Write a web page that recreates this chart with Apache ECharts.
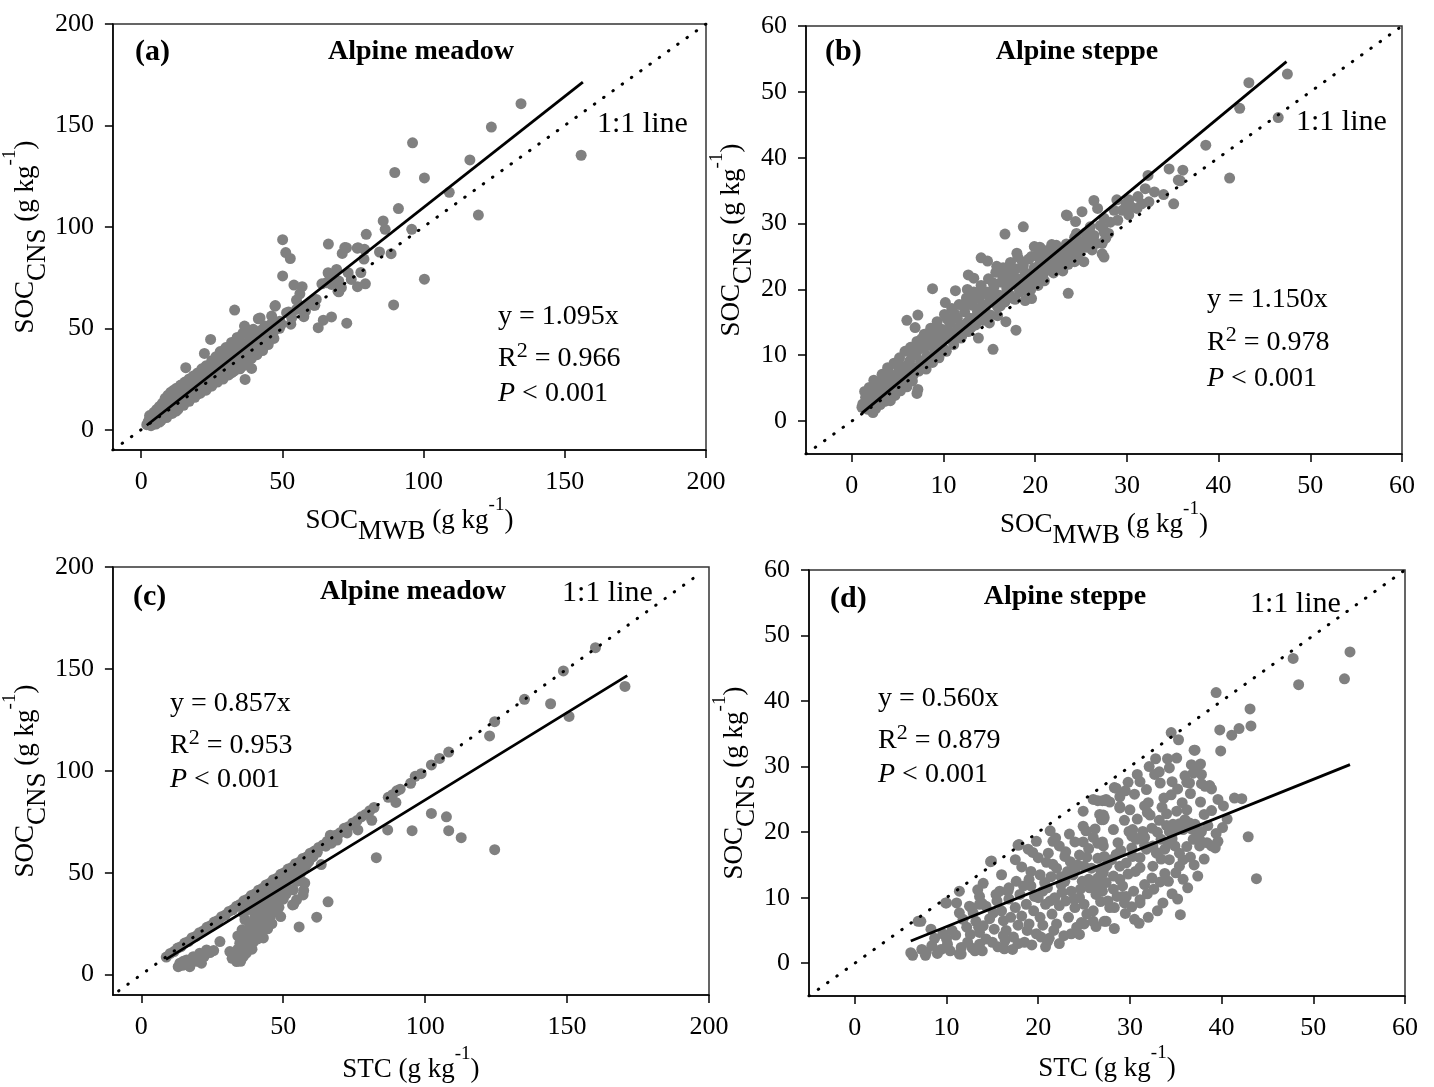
<!DOCTYPE html>
<html>
<head>
<meta charset="utf-8">
<script src="https://cdn.jsdelivr.net/npm/echarts@6/dist/echarts.min.js"></script>
<style>
html, body { margin: 0; padding: 0; background: #fff; }
#mainChart { width: 1434px; height: 1087px; }
</style>
</head>
<body>
<div id="mainChart"></div>
<script>
// SOC comparison, four panels

var serif = '"Liberation Serif", "Times New Roman", serif';
var dotGray = '#808080';

// tick labels
var ticksMeadow = [0, 50, 100, 150, 200];
var ticksSteppe = [0, 10, 20, 30, 40, 50, 60];

// (a) alpine meadow, SOC_MWB vs SOC_CNS
var meadowMwb = [
  [134.5,160.7],[124,149.2],[155.8,135.3],[96.1,141.4],[116.4,133],[89.8,126.8],[100.3,124.1],[109.1,117],[119.4,105.8],
  [91.1,109],[85.7,102.9],[86.4,98.8],[95.8,98.8],[79.7,96.3],[50.1,93.7],[66.3,91.5],[51.2,87.3],[52.8,84.4],
  [72.1,89.8],[76.5,89.5],[71.2,86.9],[84.4,87.6],[88.5,86.8],[78.9,84.1],[77.8,77.5],[79.4,71.9],[100.3,74.2],
  [50.1,75.8],[89.4,61.5],[72.8,52.5],[62.7,50.3],[67.4,55.6],[64.5,54],[57.6,55.7],[61.5,61.3],[33.1,59],
  [47.4,60.9],[42.1,55.1],[36.6,51.1],[24.6,44.5],[22.4,37.6],[15.8,30.6],[36.8,24.8],[24.4,21.5],[12.4,9.2],
  [72.7,89.7],[76.8,89.7],[79.1,88.9],[74.4,74.1],[76.6,70.5],[69.2,79],[66.4,77],[68.3,74.9],[70,73.3],[67.4,71.6],
  [70,68],[70.9,70],[73.3,77.4],[64,71.9],[65.6,72.5],[66.2,77.4],[69.7,68.3],[54.1,71.3],[57,70.5],[56.2,67],
  [55,63.9],[56.8,60.9],[58.2,58.5],[46.2,56],[49.1,53.5],[41.5,54.7],[39.7,49.5],[43.8,51.1],[46.2,49.5],[39.1,38],
  [39.1,30.2],[51.5,57.7],[53.3,55.2],[49.7,52],[55,59.3],[60,62.5],[62,64.2],[58.5,61],[53,52],[61.1,61.4],[52.2,58],
  [48.9,52.5],[47.5,61.2],[35.6,31.1],[32.1,28.1],[28.6,26.5],
  [2,2.5],[2.5,4],[3,3],[3,5.5],[3.5,2],[3.8,4.5],[4,6.8],[4.3,3.2],[4.8,5.2],[5,7.8],[5.2,2.8],[5.6,4.4],[6,6.2],
  [6,9.5],[6.5,3.8],[6.8,7.5],[7,11],[7.3,5.2],[7.8,8.8],[8,12.5],[8.2,6.3],[8.7,10],[9,14],[9.2,7.5],[9.8,11.5],
  [10,15.5],[10.3,8.5],[10.8,13],[11,17],[11.4,10.2],[11.8,14.5],[12,18],[12.6,12],[13,16],[13.4,19],[13.8,13.2],
  [14.3,17.5],[15,19.5],[15.2,14.8],[16,17.5],[16.4,21],[17,15.6],[17.3,19.5],[18,22.5],[18.4,18],[19,20.5],[19.5,24],
  [20,17.5],[20.4,22],[21,26],[21.5,20],[22,24],[22.5,28],[23,21.5],[23.5,25.5],[24,29],[24.8,23.5],[25.3,27],[26,31],
  [26.4,25],[27,29],[27.5,33],[28,26],[29,31],[29.5,35],[30,28.5],[30.5,33],[31,37],[31.5,30],[32,35],[32.5,39],
  [33,32.5],[33.5,37],[34,41],[34.5,34],[35,39],[35.5,43],[36,36],[36.5,40.5],[37,34],[37.5,42],[38,38],[38.5,45],
  [39,41],[40,43.5],[40.5,47],[41,40],[42,45],[42.5,49],[43,43],[44,47.5],[45,50],[45.5,46],[46,52],[47,48.5],
  [48,53],[49,50],
  [3,7],[4.5,8.5],[5.5,10],[6.5,11.5],[7.5,13],[8.5,15.5],[9.5,17],[10.5,18.5],[11.5,19.5],[12.5,20.5],[14,22],
  [15.5,23.5],[17,25],[18.5,26.5],[20,28],[21.5,30],[23,31.5],[25,34],[26.5,36],[28,38.5],[30,40.5],[32,43],
  [34,45.5],[36,47.5],[38,49],
  [5,3],[7,4.5],[9,6],[11,8],[13,10],[15,12],[17,14],[19,16],[21,18],[23,19.5],[25,21.5],[27,23.5],[29,25],
  [31,27],[33,29],[35,30],[37,32],[39,35],[41,37],[43,39],[45,42],[47,45],
  [4,4],[6,5],[8,7.5],[10,9.5],[12,11.5],[14,14],[16,16],[18,19.5],[20,21],[22,22.5],[24,25.5],[26,27.5],[28,30],
  [30,31],[32,33],[34,36],[36,38.5],[38,40.5],[40,41],[42,43.5],[44,45],[46,47]
];

// (b) alpine steppe, SOC_MWB vs SOC_CNS
var steppeMwb = [
  [47.5,52.7],[43.3,51.4],[42.3,47.5],[46.5,46.1],[38.6,41.9],[41.2,36.9],[35.8,36.5],[34.6,38.3],[36.1,38.1],[35.6,36.6],
  [32.3,37.3],[35.1,33],[34,34.4],[32.4,33.3],[31.2,34.1],[30.2,33.6],[29.9,33],[28.9,33.6],[28.6,32],[30.2,31.3],
  [31.1,32.3],[26.4,33.5],[25.1,31.8],[26.8,32.3],[23.5,31.2],[27.5,30.8],[27.4,29.3],[26.4,28.2],[25.9,27.5],[25.5,28.6],
  [27.3,27],[27.5,24.9],[16.7,28.4],[18.7,29.5],[23.6,23.8],[23.6,19.4],[24.9,27.3],[24.4,26.7],[24.8,25.5],[25.3,24.2],
  [24.3,24.2],[22.3,26.7],[21.1,25.7],[20.6,26.2],[20.6,22],[20.8,23],[14.1,24.8],[14.8,24.3],[8.8,20.1],[11.3,19.8],
  [12.7,22.2],[13.3,21.7],[6,15.3],[7.2,16.1],[6.9,14.2],[13.8,12.6],[15.4,10.9],[17.9,13.8],[16.8,15.1],[15.9,16],
  [15,14.9],[7.2,4.8],[7.1,4.2],[2.3,1.3],[1.1,2.1],[23.4,31.3],[24.4,30.3],[27.1,29.7],[27.5,28.7],[26,28.5],
  [25.6,27.5],[27.3,25.4],[24.9,27],[24.2,27],[24.6,25.4],[25.5,26.4],[26.7,27],
  [22.9,24.4],[22,24.9],[21.3,25.9],[20.5,26.4],[22.7,23.4],[21.6,23.4],[20.9,22.4],[20.5,23.9],[19.6,18.6],[18.9,18.3],
  [17.8,18.5],[19.2,19.6],[20.3,20.6],[18.5,20.2],
  [1.2,2.6],[1.5,3.6],[1.7,1.8],[1.9,5.1],[2.1,2.9],[2.3,4.3],[2.4,6.2],[2.6,1.9],[2.8,3.4],[3,5.6],[3.1,2.5],[3.3,7.1],
  [3.4,4.1],[3.6,3],[3.7,5.9],[3.9,8.1],[4.1,4.8],[4.2,3.1],[4.4,6.6],[4.6,8.8],[4.7,3.9],[4.9,5.6],[5.1,7.4],[5.2,9.6],
  [5.3,4.6],[5.5,6.4],[5.7,8.3],[5.8,10.6],[6,5.2],[6.1,7.1],[6.3,9.1],[6.4,11.2],[6.6,6.1],[6.8,8.1],[7,10],[7.1,12.1],
  [7.3,7.6],[7.5,9.1],[7.7,11.1],[7.9,13.2],[8.1,7.9],[8.2,9.9],[8.4,12],[8.6,14.1],[8.8,8.9],[9,10.9],[9.1,13.1],
  [9.3,15.1],[9.5,9.6],[9.7,11.6],[9.9,13.9],[10.1,16.2],[10.3,10.6],[10.5,12.6],[10.7,14.9],[10.9,17.1],[11.1,11.6],
  [11.3,13.6],[11.5,15.6],[11.7,17.7],[11.9,12.6],[12.1,14.6],[12.3,16.6],[12.5,18.7],[12.7,13.6],[12.9,15.6],[13.1,17.6],
  [13.3,19.6],[13.5,14.6],[13.7,16.6],[13.9,18.6],[14.1,20.6],[14.3,15.3],[14.5,17.6],[14.7,19.6],[14.9,21.6],[15.1,16.1],
  [15.3,18.3],[15.5,20.4],[15.7,22.6],[15.9,17.3],[16.1,19.1],[16.3,21.1],[16.5,23.3],[16.7,18.1],[16.9,20.1],[17.1,22.1],
  [17.3,24.1],[17.5,18.7],[17.7,20.9],[17.9,23.1],[18.1,24.9],[18.3,19.6],[18.5,21.6],[18.7,23.6],[18.9,20.6],[19.1,22.4],
  [19.3,24.6],[19.5,19.9],[19.7,21.9],[19.9,23.3],[20.1,25.1],[20.4,21.6],[20.7,24.1],[21.1,22.9],[21.4,25.1],[21.7,23.6],
  [22.1,26.1],[22.4,24.1],[22.7,25.6],[23.1,24.6],[23.4,26.9],[23.9,25.3],[24.3,27.9],[24.7,26.1],
  [1.4,4.5],[2,3.8],[2.6,5.2],[3.2,4.6],[3.5,6.4],[4,7.5],[4.3,5.5],[4.8,7],[5,8.4],[5.4,7.8],[5.6,5.5],[6.2,8.4],
  [6.5,10.2],[6.7,7],[7.2,10.8],[7.4,8.4],[7.6,12.5],[8,11.3],[8.3,8.8],[8.5,13.3],[8.9,12.3],[9.2,10.2],[9.4,14.2],
  [9.8,12.7],[10,11],[10.4,15.5],[10.6,13.6],[11,12.5],[11.2,16.3],[11.6,14.2],[12,13],[12.3,17.8],[12.6,15],[13,14.2],
  [13.2,18.3],[13.6,15.8],[14,17.2],[14.3,19.5],[14.6,16.5],[15,18.8],[15.4,21],[15.8,19.2],[16.2,17.5],[16.4,22.2],
  [16.8,21.2],[17.2,19.2],[17.5,23],[17.8,21.8],[18.2,20.2],[18.6,24.2],[18.9,22.4],[19.3,21],[19.6,25],[20,22.6],
  [20.5,24.8],[21,21.3],[21.5,24.2],[22,22.5],[22.5,25],[23,26.2],[23.6,25.8],[24,25],[24.5,28.5],[25,26.8],
  [21.8,26.8],[19.9,26.5],[18,25.5],[15.8,23.5],[12.6,20],[10.2,18],[26,29.5],[26.2,26],[28.2,30.2],[28,28.5],
  [29.5,32],[29,30.5],[30.5,32.5],[31.6,33],[32,35.3],[33,34.8],[27.7,27.8],[23,22.8]
];

// (c) alpine meadow, STC vs SOC_CNS
var meadowStc = [
  [8.8,8.6],[10.2,10.4],[11.5,11.3],[12.8,13],[14,13.7],[15.3,15.5],[16.6,16.2],[17.9,18.1],[19.2,18.8],[20.5,20.6],
  [21.8,21.4],[23.1,23.2],[24.4,24],[25.7,25.8],[27,26.6],[28.3,28.4],[29.6,29.2],[30.9,31],[32.2,31.8],[33.5,33.5],
  [34.8,34.4],[36.1,36.2],[37.4,37],[38.7,38.8],[40,39.6],[41.3,41.4],[42.6,42.2],[43.9,44],[45.2,44.8],[46.5,46.6],
  [47.8,47.3],[49.1,49.2],[50.4,50],[51.7,51.8],[53,52.5],[54.3,54.4],[55.6,55.1],[56.9,57],[58.2,57.7],[59.5,59.6],
  [61,60.6],[62.5,62.4],[64,63.6],[65.5,65.4],[67,66.6],[68.5,68.4],[70,69.6],[71.5,71.4],[73,72.6],[74.5,74.4],
  [76,75.6],[77.5,77.4],[79,78.6],[80.5,80.4],[82,82],[87,87],[88.5,88.3],[90,90.2],[91.2,91],[94.9,93.9],
  [96.5,97.3],[98.6,98.6],[102.2,102.9],[105.1,106.1],[108.3,109.2],[124.5,124.1],[135,135.1],[148.7,149],[160,160.4],
  [122.7,117.1],[144.2,132.9],[150.7,126.7],[170.4,141.4],[124.5,61.3],[112.7,67.2],[108.3,70.6],[107.5,77.4],
  [102.2,79.1],[95.4,70.6],[86.8,71],[82.8,57.4],[89.7,84.5],[81.2,75.7],[76.3,71],[65.8,35.7],[61.8,28.2],[55.6,23.4],
  [66.6,68.4],[71.5,71.8],[75.2,73.5],[72.5,69.5],[69,66],[67,64.5],[65,63],[63.4,54],[58.2,54],[62,60],[60.5,58],
  [59,55.5],[57.2,52],[56.9,45.5],[57.2,41.3],[53.7,34.5],[57,39.1],[54.7,36.7],[53.3,34.2],[57.6,44.9],[54.7,45.7],
  [53.5,41.6],[56,49.5],[55,47.5],[54,51],[52.5,48],[51.5,46],[50.5,43.5],[49.5,45],[48.5,41],[49.1,28.5],[45.6,31.1],
  [42,40],[44,41.5],[46,43],[48,44.5],[50,47],[52,49.5],[54,52.5],[56,54],[58,56],[60,57.5],[45,42.5],[47,45],[49,47.5],[51,49],
  [27.7,16.2],[31.2,11.3],[33.6,6.4],[35.9,8.8],[34.7,15.4],[37.1,19.5],[38.2,23.6],[40,28.5],[40.6,31.8],[41.8,35.1],
  [44.1,36.7],[45.3,31.8],[32,8],[33,10],[34,12.5],[35,6.5],[36,13.5],[36.5,17],[37,10.5],[37.5,14],[38,17],[38.5,20.5],
  [39,12.5],[39.5,16],[39.5,25.5],[40,20],[40.5,23],[41,17.5],[41.5,26.5],[42,21],[42.5,29],[43,24],[43,18],[43.5,32],
  [44,27],[44.5,22.5],[45,34],[45.5,28.5],[46,25],[46.5,37],[47,31],[47.5,35],[48,38.5],[48.5,33],[46,40],[44,40.5],
  [42.5,38],[39,35.5],[38,32],[36.5,27],[35.5,22],[34,19],[36,30],[50,37],[51,39.5],[52,42],
  [13.6,5.6],[16,7.2],[18.3,8.8],[20.6,10.5],[23,12.1],[21.2,5.6],[17.1,3.9],[13,3.9],[14.5,4.6],[15.5,5],
  [19.5,6.5],[22.2,9],[24.2,10.8],[25.5,11.8],[14.8,6.5]
];

// (d) alpine steppe, STC vs SOC_CNS
var steppeStc = [
  [54,47.5],[53.4,43.4],[47.8,46.5],[48.4,42.5],[39.4,41.3],[43.1,38.8],[43.2,36.2],[39.8,35.6],[41.1,34.8],[41.9,35.8],
  [39.9,32.4],[37,32.5],[34.5,35.2],[35.3,34.1],[35.1,31.3],[32.8,31.2],[34.1,31.2],[37.1,32.5],[33.2,29.2],[32.7,28.8],
  [33.3,27.5],[31.1,27.7],[31.8,26.5],[34.6,27.7],[34.5,25.7],[36.2,27.6],[36.5,27.5],[36.7,30.3],[37.7,30.4],[37.3,29.3],
  [37.8,28.8],[36.9,29],[37.8,27.4],[38.7,27.1],[38.9,26.6],[38.2,27],[37.7,24.6],[36.6,25.9],[39.6,25],[41.4,25.2],
  [42.2,25.1],[42.9,19.3],[43.8,12.9],[40.1,20.7],[38.1,22.7],[35.7,24.5],[36.2,23.4],
  [28.3,26.8],[28.5,26.7],[29.5,26.3],[28.9,23.9],[30,23.4],[31.6,24],[27.1,22.6],[27.1,21.9],[27,24.8],[26.5,24.8],
  [27.3,24.8],[27.8,24.6],[26,25],[27.4,25],[26.7,22.7],[24.9,23.2],[24.9,20.9],[24.9,18.5],[23.4,19.7],[21.9,19.1],
  [17.8,18],[14.8,15.5],[9.9,9.2],[6.9,6.4],[6.1,1.6],[6.3,1.2],[7.3,2.1],[7.7,1.2],[7.8,1.7],[11.6,1.4],[13.9,1.9],
  [34,21],[34.7,21.2],[35.4,21.3],[36,21.9],[36.5,21.4],[37.1,21.2],[35.1,20.4],[35.8,20.4],[34.3,20.1],[37.3,19.4],
  [37.6,18.9],[38.4,18.4],[38.9,17.9],[39.3,17.6],[37.6,17.9],[36.9,18.9],[38.1,15.9],[37.4,13.3],[35.8,12.8],[34.2,12.5],
  [33.3,12.4],[33.6,9.2],[35.5,7.4],[31.1,9.7],[31.1,9.2],[30.5,6.7],[31,6.1],[28.3,5.3],[27.2,6.4],[27.8,8.5],
  [29.4,9.2],[29.2,10.2],[34.3,15.8],[35.4,14.8],[32.5,14.8],[31.1,16.1],[30.3,16.3],[29.6,15.3],[34.2,18.4],[34.9,17.9],
  [35.4,16.8],[35.8,15.8],[33.8,17.4],[32.9,16.8],[32.5,17.9],[31.8,17.4],[33.4,18.9],[30.3,20.4],[31.4,20.1],[30.2,19.4],
  [30.7,18.9],[28.7,18.4],[27.1,17.9],[27.2,16.3],[28.5,16.6],[28.9,14.8],[27.4,14.8],[27.1,13.8],[28.2,13.3],[28.9,12.8],
  [27.4,12.3],[28.2,11.3],[29.2,11.8],[29.6,10.2],[27.2,22.2],[28.9,23.7],[24.7,6.2],[24.5,4.4],[26,6.4],[27.4,6.4],
  [28.3,8.5],[26.3,5.6],[39.3,18],[39.6,18.6],[37.5,19.8],[37.8,20.1],[29.9,20.1],[30.6,19.1],[31.6,18],[32.9,16.9],
  [33.4,15.9],[31.1,14.6],
  [7.2,6.4],[8.3,5.2],[8.7,3.8],[9.4,2.1],[10.1,2.9],[10,3.7],[11.4,1.4],[11.6,2.4],[12.3,3.2],[13.1,1.9],
  [13.6,2.9],[10,9.2],[11.4,11],[11.1,9.2],[11.4,7.7],[11.8,6.7],[12.5,8.7],[12.9,7.7],[13.2,6.4],[13.6,4.7],
  [14,5.7],[14.3,3.7],[14.9,15.6],[14,12.2],[13.6,10.2],[13.6,9],[14.3,8.7],[15.1,7.7],[15.8,11],[16.7,11],
  [17.9,18.1],[18.9,17.4],[20,16.1],[19.2,14],[20.2,13.5],[20.7,12.3],[21.6,18.6],[21.1,16.8],[22.9,16.3],[21.6,15.1],
  [26.9,21.9],[13.4,11.2],[13.9,9.1],[12.7,8.5],[19.4,16.9],[20.9,15.4],[15.6,2.5],[16.3,2.2],[17.2,2.1],[15,3.2],
  [15.5,9.5],[16,8],[16.2,6.5],[16.5,5],[16.8,9.8],[17,7],[17.3,4],[17.5,8.5],[17.8,5.8],[18,10.5],
  [18.2,7.2],[18.5,3.2],[18.7,9],[19,6],[19.2,11.8],[19.5,8],[19.8,4.5],[20,10],[20.2,7],[20.5,5.8],
  [20.8,9],[21,11.5],[21.2,3.8],[21.5,7.5],[21.8,10],[22,6],[22.3,8.8],[22.5,12],[22.8,4.2],[23,9.5],
  [23.3,7],[23.6,11],[24,8.5],[24.2,5.5],[24.5,10],[24.8,12.5],[25,9],[25.3,7.5],[25.6,11.5],[26,8],
  [26.3,10.5],[26.5,13],[25.8,14.5],[24.3,15],[23.2,14],[22.5,13.2],[23.8,13.5],[26.8,12],[27,11],[27.6,9.5],
  [23,17],[23.5,15.5],[24,18.5],[24.5,16.5],[25,14.8],[25.5,17.5],[26,19.2],[26.5,16],[27,18.5],[27.5,15],
  [22,14.5],[25.2,20.2],[26.2,20.5],
  [16.4,3.5],[17.8,3],[19.3,2.8],[20.8,2.5],[18.8,5],[20.3,4],[21.7,5],[16.8,11.5],[17.6,12.5],[18.4,11.8],
  [19.6,10.2],[21.3,9.5],[22.6,10.8],[23.9,9.8],[24.6,11.3],[25.5,12.8],[26.8,14.2],[28,15.8],[29,17.2],[30.2,17.6],
  [31.6,19.2],[32.4,20.6],[33.2,21.8],[34,22.8],[35.1,23.2],[33.5,23.8],[32.2,22.6],[30.8,22],[29.4,21.8],[28.2,20.4],
  [26.5,18.3],[25.3,16.2],[24,14.2],[22.9,12.5],[21.4,13.2],[20.5,11],[32,24.5],[33.7,25.2],[35.2,26.6],[36,28.6],
  [34.3,29.8],[32.1,30],[30.8,28.8],[29.8,27.6],[28.9,25.4],[30.5,25.8],[31.9,23],[33,20],[34.6,19],[36.2,17.8],
  [36.6,16.2],[37,15],[35,13.8],[33.8,13.7],[32.4,13],[31.6,12],[30.4,11],[29.8,13.6],[30.6,14],[31.9,10.6],
  [32.6,11.3],[34.6,10.6],[35.2,9.8],[36.3,11.5],[33,8],[32,7],[29.5,7.6],[30.2,8.6],[26.8,9.4],[28.6,10.2],
  [26.2,11.8],[25,6],[23.6,4.5],[22.3,3],[21,3.3],[16.2,4.2],[15.2,5.2],[14.7,6.8],[15.4,10.5],[12.2,5.5],
  [12.6,4.4],[9.6,4.5],[10.6,5],[11,4.3],[8.4,2.7],[9,1.5],[10.4,1.9],[12.8,2.3],[13.5,5.5],[16,13.5],
  [18.2,14.7],[19.8,18.6],[22.3,17.9],[17.5,15.8],[21.3,20.2],[19,12.8],[36.7,20.5],[38.5,21],[38.9,23.3],[40.2,24],
  [40.6,22],[39.4,19.8]
];

// regression line ends
var fitA = [[2, 2.2], [156.4, 171.3]];
var fitB = [[1.1, 1.2], [47.4, 54.6]];
var fitC = [[8.7, 7.5], [171.2, 146.7]];
var fitD = [[6.1, 3.4], [54, 30.3]];

// 1:1 reference lines
var oneA = [[-10, -10], [200, 200]];
var oneB = [[-5, -5], [60, 60]];
var oneC = [[-8, -8], [196, 196]];
var oneD = [[-5, -5], [60, 60]];

var eqA = ['y = 1.095x', '0.966'];
var eqB = ['y = 1.150x', '0.978'];
var eqC = ['y = 0.857x', '0.953'];
var eqD = ['y = 0.560x', '0.879'];

var myChart = echarts.init(document.getElementById('mainChart'));

var nameRich = {
  b: { fontFamily: serif, fontSize: 27, lineHeight: 50, color: '#000' },
  sub: { fontFamily: serif, fontSize: 27, lineHeight: 20, verticalAlign: 'bottom', color: '#000' },
  sup: { fontFamily: serif, fontSize: 19, lineHeight: 28, verticalAlign: 'top', color: '#000' }
};
var nameCns = '{b|SOC}{sub|CNS}{b| (g kg}{sup|-1}{b|)}';
var nameMwb = '{b|SOC}{sub|MWB}{b| (g kg}{sup|-1}{b|)}';
var nameStc = '{b|STC (g kg}{sup|-1}{b|)}';

function makeAxis(idx, min, max, ticks, name, gap) {
  return {
    gridIndex: idx,
    type: 'value',
    min: min,
    max: max,
    axisLine: { show: true, onZero: false, lineStyle: { color: '#000', width: 1.5 } },
    axisTick: { show: true, inside: false, length: 8, customValues: ticks, lineStyle: { color: '#000', width: 1.5 } },
    axisLabel: { customValues: ticks, margin: 19, fontFamily: serif, fontSize: 26, color: '#000' },
    splitLine: { show: false },
    name: name,
    nameLocation: 'middle',
    nameGap: gap,
    nameTextStyle: { rich: nameRich }
  };
}

function txt(x, y, text, size, extra) {
  var st = { text: text, fontFamily: serif, fontSize: size, fill: '#000', align: 'left', verticalAlign: 'middle' };
  for (var k in extra) st[k] = extra[k];
  return { type: 'text', x: x, y: y, z: 100, style: st };
}

function eqBlock(x, ys, eq) {
  var rich = {
    n: { fontFamily: serif, fontSize: 28, fill: '#000', lineHeight: 38 },
    s: { fontFamily: serif, fontSize: 22, fill: '#000', lineHeight: 20, verticalAlign: 'top' },
    i: { fontFamily: serif, fontSize: 28, fill: '#000', fontStyle: 'italic', lineHeight: 38 }
  };
  return [
    txt(x, ys[0], eq[0], 28),
    txt(x, ys[1], '{n|R}{s|2}{n| = ' + eq[1] + '}', 28, { rich: rich }),
    txt(x, ys[2], '{i|P}{n| < 0.001}', 28, { rich: rich })
  ];
}

var bold = { fontWeight: 'bold' };
var centerBold = { fontWeight: 'bold', align: 'center' };

var graphics = [
  txt(135, 52, '(a)', 30, bold),
  txt(421, 52, 'Alpine meadow', 28, centerBold),
  txt(597, 124, '1:1 line', 30),
  txt(825, 52, '(b)', 30, bold),
  txt(1077, 52, 'Alpine steppe', 28, centerBold),
  txt(1296, 122, '1:1 line', 30),
  txt(133, 597, '(c)', 30, bold),
  txt(413, 592, 'Alpine meadow', 28, centerBold),
  txt(562, 593, '1:1 line', 30),
  txt(830, 599, '(d)', 30, bold),
  txt(1065, 597, 'Alpine steppe', 28, centerBold),
  txt(1250, 604, '1:1 line', 30)
].concat(eqBlock(498, [317, 359, 394], eqA))
 .concat(eqBlock(1207, [300, 343, 379], eqB))
 .concat(eqBlock(170, [704, 746, 780], eqC))
 .concat(eqBlock(878, [699, 741, 775], eqD));

function scatter(i, data) {
  return { type: 'scatter', xAxisIndex: i, yAxisIndex: i, data: data, symbolSize: 11,
    itemStyle: { color: dotGray, opacity: 1 }, silent: true, z: 2 };
}
function fitLine(i, data) {
  return { type: 'line', xAxisIndex: i, yAxisIndex: i, data: data, symbol: 'none', silent: true, z: 4,
    lineStyle: { color: '#000', width: 2.8 } };
}
function oneLine(i, data) {
  return { type: 'line', xAxisIndex: i, yAxisIndex: i, data: data, symbol: 'none', silent: true, z: 3,
    lineStyle: { color: '#000', width: 3, type: [0.5, 10.9], cap: 'round' } };
}

myChart.setOption({
  backgroundColor: '#fff',
  animation: false,
  grid: [
    { left: 111, top: 24, width: 595, height: 426, show: true, borderColor: '#333', borderWidth: 1.5 },
    { left: 806, top: 26, width: 596, height: 428, show: true, borderColor: '#333', borderWidth: 1.5 },
    { left: 112, top: 567, width: 597, height: 428, show: true, borderColor: '#333', borderWidth: 1.5 },
    { left: 809, top: 570, width: 596, height: 426, show: true, borderColor: '#333', borderWidth: 1.5 }
  ],
  xAxis: [
    makeAxis(0, -10, 200, ticksMeadow, nameMwb, 42),
    makeAxis(1, -5, 60, ticksSteppe, nameMwb, 42),
    makeAxis(2, -10, 200, ticksMeadow, nameStc, 50),
    makeAxis(3, -5, 60, ticksSteppe, nameStc, 48)
  ],
  yAxis: [
    makeAxis(0, -10, 200, ticksMeadow, nameCns, 56),
    makeAxis(1, -5, 60, ticksSteppe, nameCns, 47),
    makeAxis(2, -10, 200, ticksMeadow, nameCns, 57),
    makeAxis(3, -5, 60, ticksSteppe, nameCns, 48)
  ],
  graphic: graphics,
  series: [
    scatter(0, meadowMwb), oneLine(0, oneA), fitLine(0, fitA),
    scatter(1, steppeMwb), oneLine(1, oneB), fitLine(1, fitB),
    scatter(2, meadowStc), oneLine(2, oneC), fitLine(2, fitC),
    scatter(3, steppeStc), oneLine(3, oneD), fitLine(3, fitD)
  ]
});
</script>
</body>
</html>
